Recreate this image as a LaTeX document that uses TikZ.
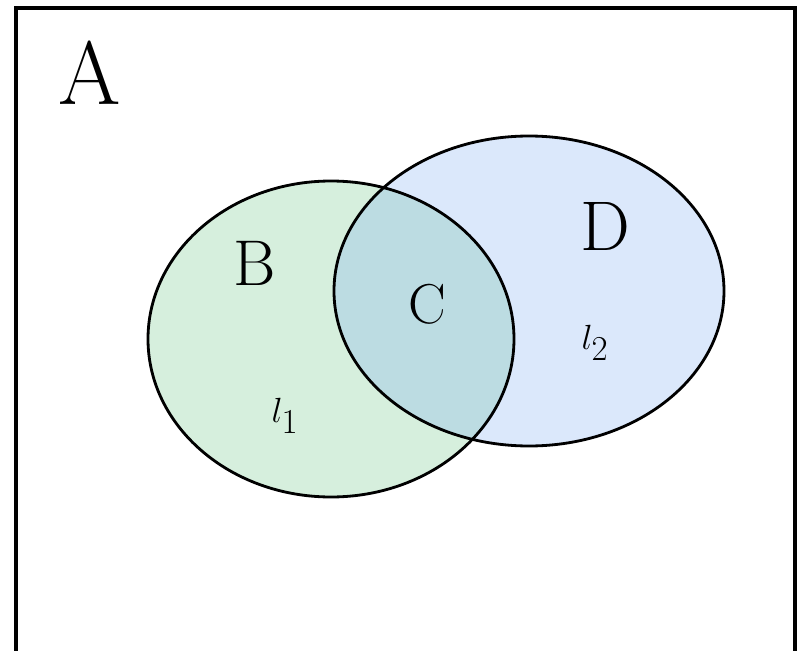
\documentclass[tikz,border=0pt]{standalone}
\usepackage{fontspec}
\definecolor{SetGreen}{RGB}{214, 239, 221}
\definecolor{SetBlue}{RGB}{219, 232, 251}
\definecolor{SetCyan}{RGB}{188, 220, 226}
\usetikzlibrary{positioning}
\tikzset{
  setlabel/.style={font=\fontsize{#1}{#1}\selectfont, inner sep=0pt},
  outline/.style={line width=2pt, black}
}

\begin{document}
\begin{tikzpicture}[x=0.025cm, y=-0.025cm]
        \useasboundingbox (0,0) rectangle (798,651);

        % Fills of B and D
        \fill[SetGreen] (331,339) ellipse [x radius=183, y radius=158];
        \fill[SetBlue] (529,291) ellipse [x radius=195, y radius=155];

        % Overlap C
        \begin{scope}
          \clip (331,339) ellipse [x radius=183, y radius=158];
          \fill[SetCyan] (529,291) ellipse [x radius=195, y radius=155];
        \end{scope}

        % Outlines
        \draw[outline] (331,339) ellipse [x radius=183, y radius=158];
        \draw[outline] (529,291) ellipse [x radius=195, y radius=155];

        % Universe A
        \draw[line width=2.8pt] (16,670) -- (16,8) -- (795,8) -- (795,670);

        % Labels
        \node[setlabel=64] (setA) at (90,73) {A};
        \node[setlabel=46] (setB) at (255,263) {B};
        \node[setlabel=40] (setC) at (427,304) {C};
        \node[setlabel=50] (setD) at (605,226) {D};
        \node[setlabel=44] (lone) at (285,416) {$l_1$};
        \node[setlabel=44] (ltwo) at (595,343) {$l_2$};
    \end{tikzpicture}
\end{document}
